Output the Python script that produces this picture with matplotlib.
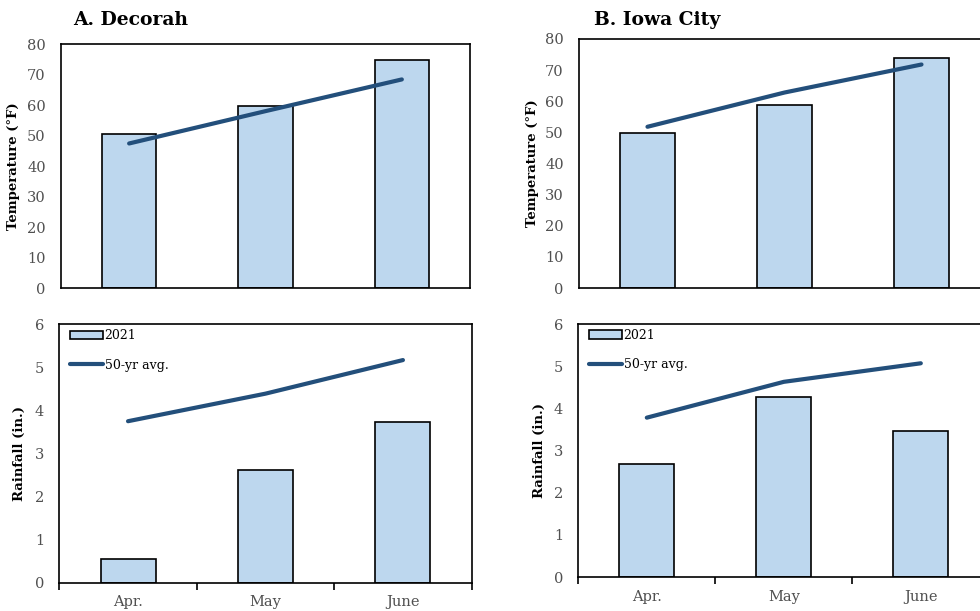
import numpy as np
import matplotlib
matplotlib.use('Agg')
import matplotlib.pyplot as plt

# monthly values, Apr-June
months = ['Apr.', 'May', 'June']

decorah_temp_2021 = [50.6, 59.6, 74.8]
decorah_temp_avg = [47.4, 58.0, 68.4]
iowa_temp_2021 = [49.8, 58.7, 74.0]
iowa_temp_avg = [51.8, 62.8, 71.8]

decorah_rain_2021 = [0.56, 2.61, 3.74]
decorah_rain_avg = [3.75, 4.39, 5.17]
iowa_rain_2021 = [2.68, 4.27, 3.47]
iowa_rain_avg = [3.78, 4.63, 5.07]

plt.rcParams['font.family'] = 'DejaVu Serif'
plt.rcParams['font.size'] = 10

bar_color = '#BDD7EE'
line_color = '#234F7B'
tick_color = '#505050'

fig = plt.figure(figsize=(9.8, 6.11), dpi=100)

x = np.arange(len(months))


def draw_panel(ax, bars, avg, ymax, ystep, ylabel, label_x, bottom_row):
    b = ax.bar(x, bars, width=0.4, color=bar_color, edgecolor='black', linewidth=1.2,
               label='2021', zorder=2)
    ln, = ax.plot(x, avg, color=line_color, linewidth=3.0, solid_capstyle='round',
                  label='50-yr avg.', zorder=3)
    ax.set_xlim(-0.5, 2.5)
    ax.set_ylim(0, ymax)
    ax.set_yticks(np.arange(0, ymax + ystep / 2, ystep))
    ax.tick_params(axis='y', length=0, pad=11, labelsize=10.5, labelcolor=tick_color)
    for s in ax.spines.values():
        s.set_linewidth(1.2)
    ax.set_ylabel(ylabel, fontweight='bold', fontsize=9.5)
    ax.yaxis.set_label_coords(label_x, 0.5)
    if bottom_row:
        # ticks between categories, labels centred under bars
        ax.set_xticks([-0.5, 0.5, 1.5, 2.5])
        ax.set_xticklabels([])
        ax.set_xticks(x, minor=True)
        ax.set_xticklabels(months, minor=True)
        ax.tick_params(axis='x', which='major', length=5, width=1.2, direction='out')
        ax.tick_params(axis='x', which='minor', length=0, pad=9, labelsize=10.5,
                       labelcolor=tick_color)
        ax.legend([b, ln], ['2021', '50-yr avg.'], loc='upper left',
                  bbox_to_anchor=(0.025, 0.98), frameon=False,
                  fontsize=9, handlelength=2.7, handletextpad=0.1, labelspacing=1.3,
                  borderpad=0, borderaxespad=0)
    else:
        ax.set_xticks([])


ax1 = fig.add_axes([0.0622, 0.5286, 0.4174, 0.3993])
draw_panel(ax1, decorah_temp_2021, decorah_temp_avg, 80, 10, 'Temperature (°F)', -0.100, False)

ax2 = fig.add_axes([0.5908, 0.5286, 0.4194, 0.4076])
draw_panel(ax2, iowa_temp_2021, iowa_temp_avg, 80, 10, 'Temperature (°F)', -0.097, False)

ax3 = fig.add_axes([0.0605, 0.0463, 0.4208, 0.4229])
draw_panel(ax3, decorah_rain_2021, decorah_rain_avg, 6, 1, 'Rainfall (in.)', -0.080, True)

ax4 = fig.add_axes([0.5901, 0.0556, 0.4194, 0.4140])
draw_panel(ax4, iowa_rain_2021, iowa_rain_avg, 6, 1, 'Rainfall (in.)', -0.078, True)

fig.text(0.0745, 0.967, 'A. Decorah', fontsize=13.5, fontweight='bold', va='center')
fig.text(0.606, 0.967, 'B. Iowa City', fontsize=13.5, fontweight='bold', va='center')

fig.savefig('out.png', dpi=100)
